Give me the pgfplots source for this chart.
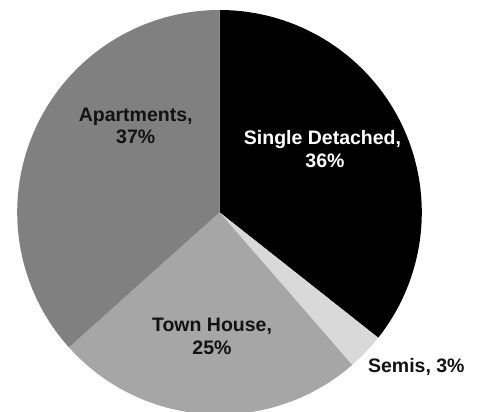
\documentclass[border=0pt]{standalone}
\usepackage{pgfplots}
\pgfplotsset{compat=1.18}
\usepackage{fontspec}
\setmainfont{Liberation Sans}
\definecolor{cSD}{HTML}{000000}
\definecolor{cSe}{HTML}{D9D9D9}
\definecolor{cTH}{HTML}{A6A6A6}
\definecolor{cAp}{HTML}{808080}
% data (percent)
\def\vSD{36}
\def\vSe{3}
\def\vTH{25}
\def\vAp{37}
\pgfmathsetmacro\tot{\vSD+\vSe+\vTH+\vAp}
\pgfmathsetmacro\aA{90}
\pgfmathsetmacro\aB{\aA-\vSD*360/\tot}
\pgfmathsetmacro\aC{\aB-\vSe*360/\tot}
\pgfmathsetmacro\aD{\aC-\vTH*360/\tot}
\pgfmathsetmacro\aE{\aD-\vAp*360/\tot}
\def\cx{219.5}
\def\cy{199.7}
\def\R{202.3}
\newcommand\lab{\fontsize{19.5}{23}\selectfont\bfseries}
\begin{document}
\begin{tikzpicture}
\begin{axis}[x=1pt,y=1pt,xmin=0,xmax=477,ymin=0,ymax=412,
  axis line style={draw=none},xtick=\empty,ytick=\empty,clip=true]
\addplot[fill=cSD,draw=none,domain=\aB:\aA,samples=120,variable=\t] ({\cx+\R*cos(t)},{\cy+\R*sin(t)}) -- (axis cs:\cx,\cy) -- cycle;
\addplot[fill=cSe,draw=none,domain=\aC:\aB,samples=20,variable=\t] ({\cx+\R*cos(t)},{\cy+\R*sin(t)}) -- (axis cs:\cx,\cy) -- cycle;
\addplot[fill=cTH,draw=none,domain=\aD:\aC,samples=100,variable=\t] ({\cx+\R*cos(t)},{\cy+\R*sin(t)}) -- (axis cs:\cx,\cy) -- cycle;
\addplot[fill=cAp,draw=none,domain=\aE:\aD,samples=120,variable=\t] ({\cx+\R*cos(t)},{\cy+\R*sin(t)}) -- (axis cs:\cx,\cy) -- cycle;
\node[font=\lab,text=white,anchor=base,inner sep=0pt] at (axis cs:322.5,267) {Single Detached,};
\node[font=\lab,text=white,anchor=base,inner sep=0pt] at (axis cs:325,244) {36\%};
\node[font=\lab,text=black!93,anchor=base,inner sep=0pt] at (axis cs:135.7,290.3) {Apartments,};
\node[font=\lab,text=black!93,anchor=base,inner sep=0pt] at (axis cs:135.7,268.5) {37\%};
\node[font=\lab,text=black!93,anchor=base,inner sep=0pt] at (axis cs:212,80.3) {Town House,};
\node[font=\lab,text=black!93,anchor=base,inner sep=0pt] at (axis cs:212,57.5) {25\%};
\node[font=\lab,text=black!93,anchor=base,inner sep=0pt] at (axis cs:416.3,39.3) {Semis, 3\%};
\end{axis}
\end{tikzpicture}
\end{document}
